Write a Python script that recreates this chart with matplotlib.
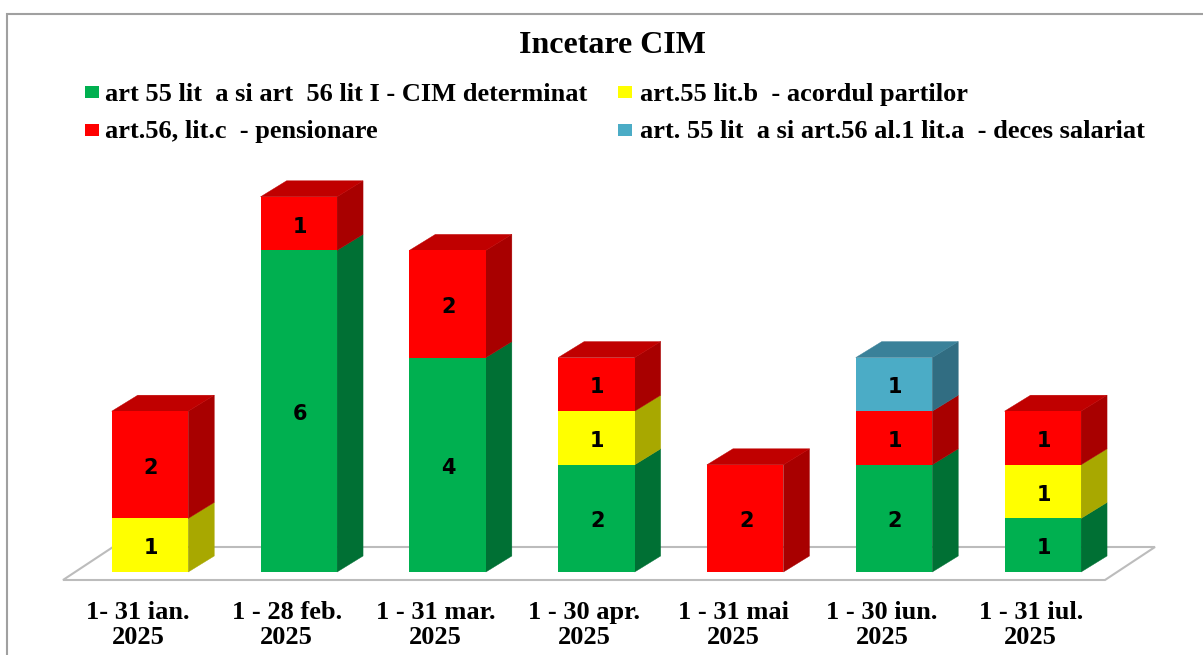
import matplotlib
matplotlib.use('Agg')
import matplotlib.pyplot as plt
from matplotlib.patches import Polygon, Rectangle
import numpy as np

categories = ['1- 31 ian.\n2025', '1 - 28 feb.\n2025', '1 - 31 mar.\n2025', '1 - 30 apr.\n2025',
              '1 - 31 mai\n2025', '1 - 30 iun.\n2025', '1 - 31 iul.\n2025']
series_names = ['art 55 lit  a si art  56 lit I - CIM determinat',
                'art.55 lit.b  - acordul partilor',
                'art.56, lit.c  - pensionare',
                'art. 55 lit  a si art.56 al.1 lit.a  - deces salariat']
green = [0, 6, 4, 2, 0, 2, 1]
yellow = [1, 0, 0, 1, 0, 0, 1]
red = [2, 1, 2, 1, 2, 1, 1]
blue = [0, 0, 0, 0, 0, 1, 0]
series = [green, yellow, red, blue]
front_colors = ['#00B050', '#FFFF00', '#FF0000', '#4BACC6']
side_colors = ['#007034', '#A8A800', '#A80000', '#316D82']
top_colors = ['#008A3E', '#C8C800', '#C00000', '#3A8199']

W, H = 1203, 655
fig = plt.figure(figsize=(W / 100, H / 100), dpi=100)
fig.patch.set_facecolor('white')
serif = 'Liberation Serif'

# axes span the floor, x in categories and y in counts
left_px, right_px = 150 - 148.8 / 2, 150 + 148.8 * 6.5
unit_px = 53.6
base_px = 572
top_px = 140
ax = fig.add_axes([left_px / W, 1 - base_px / H, (right_px - left_px) / W, (base_px - top_px) / H])
ax.set_xlim(-0.5, 6.5)
ax.set_ylim(0, (base_px - top_px) / unit_px)
ax.axis('off')

bar_w = 76.5 / 148.8
dx = 26 / 148.8
dy = 16 / unit_px

# floor
floor_x = [-0.5 + (63 - left_px) / 148.8, -0.5 + (1105 - left_px) / 148.8,
           -0.5 + (1155 - left_px) / 148.8, -0.5 + (113 - left_px) / 148.8]
floor_y = [-8 / unit_px, -8 / unit_px, 25 / unit_px, 25 / unit_px]
ax.add_patch(Polygon(list(zip(floor_x, floor_y)), closed=True, fc='white', ec='#BCBCBC', lw=1.5,
                     clip_on=False, zorder=1))

x = np.arange(len(categories))
bottom = np.zeros(len(categories))
for vals, fc, sc, tc in zip(series, front_colors, side_colors, top_colors):
    vals = np.array(vals)
    ax.bar(x, vals, bottom=bottom, width=bar_w, color=fc, zorder=3)
    for i in x:
        if vals[i] == 0:
            continue
        x1 = i + bar_w / 2
        y0 = bottom[i]
        y1 = bottom[i] + vals[i]
        ax.add_patch(Polygon([(x1, y0), (x1 + dx, y0 + dy), (x1 + dx, y1 + dy), (x1, y1)], fc=sc, ec=sc,
                             lw=0.3, zorder=2.5, clip_on=False))
        ax.text(i + 1 / 148.8, (y0 + y1) / 2 - 3 / unit_px, str(vals[i]), ha='center', va='center', fontsize=15,
                fontweight='bold', family='DejaVu Sans', color='black', zorder=5)
    bottom = bottom + vals

# top faces, coloured by the last segment of each bar
for i in x:
    idx = max(j for j in range(4) if series[j][i] > 0)
    y1 = bottom[i]
    x0 = i - bar_w / 2
    x1 = i + bar_w / 2
    ax.add_patch(Polygon([(x0, y1), (x1, y1), (x1 + dx, y1 + dy), (x0 + dx, y1 + dy)], fc=top_colors[idx],
                         ec=top_colors[idx], lw=0.3, zorder=2.5, clip_on=False))

# category labels sit a bit left of their bars
for i, lab in zip(x, categories):
    ax.text(i - 12 / 148.8, -(625 - base_px) / unit_px, lab, ha='center', va='center', fontsize=19,
            family=serif, fontweight='bold', color='black', linespacing=1.08, clip_on=False)

# chart frame
fig.add_artist(Rectangle((7 / W, -0.01), 1.1, 1 - 14 / H + 0.01, transform=fig.transFigure, fc='none',
                         ec='#A0A0A0', lw=1.5))

fig.text(612 / W, 1 - 53 / H, 'Incetare CIM', ha='center', va='baseline', fontsize=23, family=serif,
         fontweight='bold')

# legend, placed by hand to keep its two column layout
legend_pos = [(85, 92), (618, 92), (85, 130), (618, 130)]
legend_text_x = [105, 640, 105, 640]
legend_base = [101, 101, 138, 138]
for (px, py), tx, ty, name, fc in zip(legend_pos, legend_text_x, legend_base, series_names, front_colors):
    fig.add_artist(Rectangle((px / W, 1 - (py + 6) / H), 14 / W, 12 / H, transform=fig.transFigure, fc=fc, ec='none'))
    fig.text(tx / W, 1 - ty / H, name, ha='left', va='baseline', fontsize=19, family=serif,
             fontweight='bold')

fig.savefig('out.png', dpi=100)
